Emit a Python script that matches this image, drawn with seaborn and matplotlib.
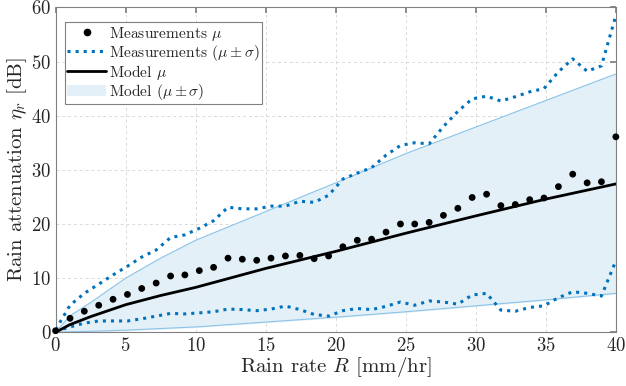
import matplotlib
matplotlib.use("Agg")
import matplotlib.pyplot as plt
import seaborn as sns
import numpy as np
from matplotlib.lines import Line2D
from matplotlib.patches import Patch

# measurement bins (rain rate, mm/hr)
rain_rate = [0.0, 1.03, 2.05, 3.08, 4.10, 5.13, 6.15, 7.18, 8.21, 9.23,
             10.26, 11.28, 12.31, 13.33, 14.36, 15.38, 16.41, 17.44, 18.46, 19.49,
             20.51, 21.54, 22.56, 23.59, 24.62, 25.64, 26.67, 27.69, 28.72, 29.74,
             30.77, 31.79, 32.82, 33.85, 34.87, 35.90, 36.92, 37.95, 38.97, 40.0]
meas_mu = [0.3, 2.6, 3.9, 5.0, 6.1, 7.0, 8.1, 9.1, 10.4, 10.6,
           11.4, 12.0, 13.7, 13.5, 13.3, 13.7, 14.1, 14.2, 13.6, 14.1,
           15.8, 17.0, 17.2, 18.5, 20.0, 20.0, 20.3, 21.6, 22.9, 24.9,
           25.5, 23.4, 23.6, 24.5, 24.8, 26.9, 29.2, 27.6, 27.8, 36.1]
meas_upper = [0.5, 5.0, 7.2, 8.9, 10.6, 12.2, 13.9, 15.2, 17.5, 18.0,
              19.2, 20.6, 23.1, 22.8, 22.8, 23.3, 23.3, 24.2, 24.0, 25.3,
              28.3, 29.4, 30.4, 32.7, 34.5, 35.0, 34.8, 38.0, 40.8, 43.1,
              43.6, 42.7, 43.5, 44.4, 45.0, 48.1, 50.5, 48.2, 49.2, 58.5]
meas_lower = [0.2, 1.0, 1.7, 2.1, 2.1, 2.1, 2.5, 3.0, 3.5, 3.4,
              3.6, 3.8, 4.3, 4.2, 4.0, 4.3, 4.85, 4.2, 3.3, 3.0,
              4.0, 4.4, 4.2, 4.8, 5.6, 5.0, 5.8, 5.6, 5.2, 6.9,
              7.2, 4.1, 3.9, 4.6, 4.9, 6.4, 7.5, 7.2, 6.7, 13.2]

# model curve
model_rate = [0, 1, 2.5, 5, 7.5, 10, 15, 20, 25, 30, 35, 40]
model_mu = [0, 1.4, 2.9, 5.1, 6.8, 8.3, 11.8, 14.95, 18.3, 21.5, 24.6, 27.4]
model_upper = [0, 3.0, 5.5, 10.0, 13.7, 17.0, 22.3, 27.6, 33.0, 37.9, 42.8, 47.7]
model_lower = [0, 0.1, 0.2, 0.4, 0.7, 1.0, 1.9, 2.8, 3.8, 4.9, 6.0, 7.2]

sns.set_theme(style="whitegrid")
plt.rcParams["font.family"] = ["cmr10", "DejaVu Serif"]
plt.rcParams["mathtext.fontset"] = "cm"
plt.rcParams["axes.formatter.use_mathtext"] = True

fig = plt.figure(figsize=(6.26, 3.86), dpi=100)
ax = fig.add_axes([0.0888, 0.139, 0.895, 0.842])

blue = "#0072BD"
band = "#e3f0f7"
ax.fill_between(model_rate, model_lower, model_upper, color=band, zorder=1)
sns.lineplot(x=model_rate, y=model_upper, color="#8cc4e8", linewidth=0.8, ax=ax, zorder=2)
sns.lineplot(x=model_rate, y=model_lower, color="#8cc4e8", linewidth=0.8, ax=ax, zorder=2)
sns.lineplot(x=rain_rate, y=meas_upper, color=blue, linestyle=":", linewidth=2.2, ax=ax, zorder=3)
sns.lineplot(x=rain_rate, y=meas_lower, color=blue, linestyle=":", linewidth=2.2, ax=ax, zorder=3)
sns.lineplot(x=model_rate, y=model_mu, color="black", linewidth=2, ax=ax, zorder=4)
sns.scatterplot(x=rain_rate, y=meas_mu, color="black", s=24, edgecolor="none", ax=ax, zorder=5, clip_on=False)

ax.set_xlim(0, 40)
ax.set_ylim(0, 60)
ax.set_xticks(range(0, 41, 5))
ax.set_yticks(range(0, 61, 10))
ax.grid(True, linestyle=(0, (3, 3)), color="#d9d9d9", linewidth=0.7)
for s in ax.spines.values():
    s.set_color("#808080")
    s.set_linewidth(0.8)
ax.tick_params(direction="in", length=4, color="#808080", labelsize=13.5,
               top=True, right=True, labelcolor="#262626", pad=3)
ax.set_xlabel("Rain rate $R$ [mm/hr]", fontsize=15, color="#262626", labelpad=0)
ax.set_ylabel(r"Rain attenuation $\eta_r$ [dB]", fontsize=15, color="#262626", labelpad=2)

handles = [
    Line2D([], [], marker="o", color="black", linestyle="none", markersize=4.5),
    Line2D([], [], color=blue, linestyle=":", linewidth=2.2),
    Line2D([], [], color="black", linewidth=2),
    Patch(facecolor=band, edgecolor="none"),
]
labels = [r"Measurements $\mu$", r"Measurements $(\mu \pm \sigma)$",
          r"Model $\mu$", r"Model $(\mu \pm \sigma)$"]
leg = ax.legend(handles, labels, loc="upper left", fontsize=11.2, fancybox=False,
                framealpha=1, edgecolor="#808080", borderpad=0.15, labelspacing=0.0,
                handlelength=2.5, handletextpad=0.2, bbox_to_anchor=(0.003, 0.978))
leg.get_frame().set_linewidth(0.8)

fig.savefig("out.png", dpi=100)
